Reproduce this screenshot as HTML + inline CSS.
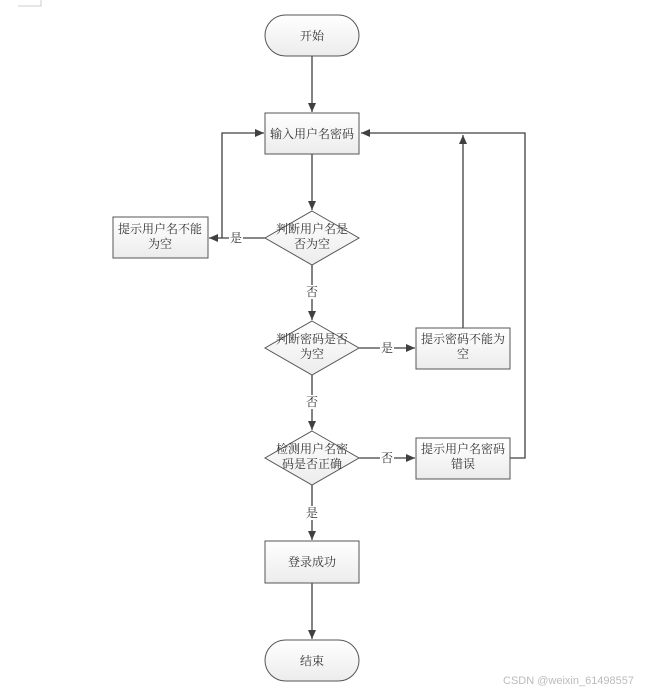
<!DOCTYPE html>
<html><head><meta charset="utf-8"><style>
html,body{margin:0;padding:0;background:#fff;}
svg{display:block;}
text{font-family:"Liberation Serif","Noto Serif CJK SC","Noto Sans CJK SC",serif;font-size:12px;fill:#333;}
</style></head><body>
<svg width="645" height="691" viewBox="0 0 645 691" xmlns="http://www.w3.org/2000/svg">
<defs>
<linearGradient id="g" x1="0" y1="0" x2="0" y2="1"><stop offset="0" stop-color="#ffffff"/><stop offset="1" stop-color="#ececec"/></linearGradient>
<marker id="a" markerWidth="10" markerHeight="10" refX="9" refY="5" orient="auto" markerUnits="userSpaceOnUse"><path d="M0,1 L9,5 L0,9 Z" fill="#404040"/></marker>
</defs>
<path d="M18,6 H41 V0" stroke="#ccc" fill="none"/>
<g stroke="#404040" stroke-width="1.3" fill="none">
<line x1="312" y1="56" x2="312" y2="112" marker-end="url(#a)"/>
<line x1="312" y1="154" x2="312" y2="210" marker-end="url(#a)"/>
<line x1="265" y1="238" x2="209" y2="238" marker-end="url(#a)"/>
<polyline points="222,238 222,133 264,133" marker-end="url(#a)"/>
<line x1="312" y1="265" x2="312" y2="320" marker-end="url(#a)"/>
<line x1="359" y1="348" x2="415" y2="348" marker-end="url(#a)"/>
<line x1="463" y1="328" x2="463" y2="135" marker-end="url(#a)"/>
<line x1="312" y1="375" x2="312" y2="430" marker-end="url(#a)"/>
<line x1="359" y1="458" x2="415" y2="458" marker-end="url(#a)"/>
<polyline points="510,458 525,458 525,133 361,133" marker-end="url(#a)"/>
<line x1="312" y1="485" x2="312" y2="540" marker-end="url(#a)"/>
<line x1="312" y1="583" x2="312" y2="639" marker-end="url(#a)"/>
</g>
<g fill="url(#g)" stroke="#555" stroke-width="1">
<rect x="265" y="15" width="94" height="41" rx="20.5"/>
<rect x="265" y="113" width="94" height="41"/>
<rect x="113" y="217" width="95" height="41"/>
<polygon points="312,211 359,238 312,265 265,238"/>
<polygon points="312,321 359,348 312,375 265,348"/>
<rect x="416" y="328" width="94" height="41"/>
<polygon points="312,431 359,458 312,485 265,458"/>
<rect x="416" y="438" width="94" height="41"/>
<rect x="265" y="541" width="94" height="42"/>
<rect x="265" y="640" width="94" height="41" rx="20.5"/>
</g>
<g text-anchor="middle">
<text x="312" y="40">开始</text>
<text x="312" y="138">输入用户名密码</text>
<text x="160" y="233">提示用户名不能</text><text x="160" y="248">为空</text>
<text x="312" y="233">判断用户名是</text><text x="312" y="248">否为空</text>
<text x="312" y="343">判断密码是否</text><text x="312" y="358">为空</text>
<text x="463" y="343">提示密码不能为</text><text x="463" y="358">空</text>
<text x="312" y="453">检测用户名密</text><text x="312" y="468">码是否正确</text>
<text x="463" y="453">提示用户名密码</text><text x="463" y="468">错误</text>
<text x="312" y="566">登录成功</text>
<text x="312" y="665">结束</text>
<rect x="229" y="231" width="14" height="14" fill="#fff"/><text x="236" y="242">是</text>
<rect x="305" y="285" width="14" height="14" fill="#fff"/><text x="312" y="296">否</text>
<rect x="380" y="341" width="14" height="14" fill="#fff"/><text x="387" y="352">是</text>
<rect x="305" y="395" width="14" height="14" fill="#fff"/><text x="312" y="406">否</text>
<rect x="380" y="451" width="14" height="14" fill="#fff"/><text x="387" y="462">否</text>
<rect x="305" y="506" width="14" height="14" fill="#fff"/><text x="312" y="517">是</text>
</g>
<text x="503" y="684" style="font-family:'Liberation Sans',sans-serif;font-size:11px;fill:#bbb">CSDN @weixin_61498557</text>
</svg>
</body></html>
